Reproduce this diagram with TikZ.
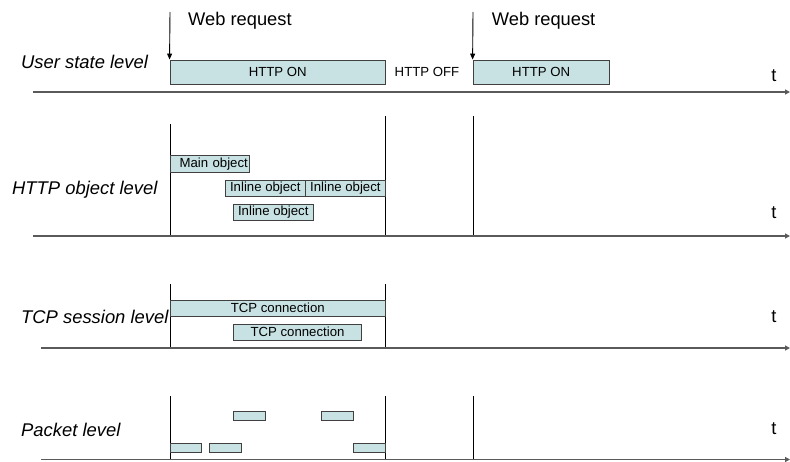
\documentclass[tikz,border=0pt]{standalone}
\usepackage{fontspec}
\setmainfont{Liberation Sans}
\usetikzlibrary{arrows.meta}
\definecolor{boxfill}{HTML}{C8E2E4}
\definecolor{boxline}{HTML}{404040}
\definecolor{axisline}{HTML}{5A5A5A}
\begin{document}
\begin{tikzpicture}[x=1pt,y=-1pt,
  bar/.style={draw=boxline,fill=boxfill,line width=0.9pt,rectangle,inner sep=0pt,
    font=\fontsize{13.2}{13.2}\selectfont},
  lvl/.style={anchor=west,inner sep=0pt,font=\fontsize{18.4}{18.4}\selectfont\itshape},
  big/.style={anchor=west,inner sep=0pt,font=\fontsize{18.3}{18.3}\selectfont},
  small/.style={inner sep=0pt,font=\fontsize{13.2}{13.2}\selectfont},
  tlab/.style={inner sep=0pt,font=\fontsize{18.3}{18.3}\selectfont},
  axis/.style={draw=axisline,line width=1.2pt,-{Triangle[length=5pt,width=5pt]}},
  vline/.style={draw=black,line width=0.9pt},
  req/.style={draw=black,line width=0.9pt,-{Triangle[length=6pt,width=5pt]}}]
\useasboundingbox (0,0) rectangle (790,461);

% ---------- User state level ----------
\node[lvl] (lu) at (21,62) {User state level};
\node[big] (wr1t) at (188,21) {Web request};
\node[big] (wr2t) at (491.7,21) {Web request};
\node[bar,minimum width=215.5pt,minimum height=24pt] (on1) at (277.75,72) {HTTP ON};
\node[small] (off) at (427,72) {HTTP OFF};
\node[bar,minimum width=136.3pt,minimum height=24pt] (on2) at (541.2,72) {HTTP ON};
\node[tlab] (t1) at (774,76) {t};
\coordinate (wr1) at (170,12);
\coordinate (wr2) at (473,12);
\draw[req] (wr1) -- (on1.north west);
\draw[req] (wr2) -- (on2.north west);
\coordinate (a1s) at (33,92);
\coordinate (a1e) at (790,92);
\draw[axis] (a1s) -- (a1e);

% ---------- HTTP object level ----------
\node[lvl] (lh) at (12,190) {HTTP object level};
\coordinate (h1t) at (170,124);
\coordinate (h1b) at (170,236);
\coordinate (h2t) at (385.5,116);
\coordinate (h2b) at (385.5,236);
\coordinate (h3t) at (473,116);
\coordinate (h3b) at (473,236);
\draw[vline] (h1t) -- (h1b);
\draw[vline] (h2t) -- (h2b);
\draw[vline] (h3t) -- (h3b);
\node[bar,minimum width=79.7pt,minimum height=16.3pt,text width=76pt,align=right] (main) at (209.85,163.85) {Main object};
\node[bar,minimum width=80pt,minimum height=16.7pt] (in1) at (265.3,188.35) {Inline object};
\node[bar,minimum width=80.2pt,minimum height=16.7pt] (in2) at (345.4,188.35) {Inline object};
\node[bar,minimum width=80pt,minimum height=16.4pt] (in3) at (273.3,212.5) {Inline object};
\node[tlab] (t2) at (774,213) {t};
\coordinate (a2s) at (33,236);
\coordinate (a2e) at (790,236);
\draw[axis] (a2s) -- (a2e);

% ---------- TCP session level ----------
\node[lvl] (lt) at (21,316.7) {TCP session level};
\coordinate (c1t) at (170,284);
\coordinate (c1b) at (170,348);
\coordinate (c2t) at (385.5,284);
\coordinate (c2b) at (385.5,348);
\draw[vline] (c1t) -- (c1b);
\draw[vline] (c2t) -- (c2b);
\node[bar,minimum width=215.5pt,minimum height=16pt] (tcp1) at (277.75,308) {TCP connection};
\node[bar,minimum width=128.4pt,minimum height=16.3pt] (tcp2) at (297.5,332.15) {TCP connection};
\node[tlab] (t3) at (774,316.7) {t};
\coordinate (a3s) at (41,348);
\coordinate (a3e) at (790,348);
\draw[axis] (a3s) -- (a3e);

% ---------- Packet level ----------
\node[lvl] (lp) at (21,430) {Packet level};
\coordinate (p1t) at (170,396);
\coordinate (p1b) at (170,459.5);
\coordinate (p2t) at (385.5,396);
\coordinate (p2b) at (385.5,459.5);
\coordinate (p3t) at (473,396);
\coordinate (p3b) at (473,459.5);
\draw[vline] (p1t) -- (p1b);
\draw[vline] (p2t) -- (p2b);
\draw[vline] (p3t) -- (p3b);
\node[bar,minimum width=32.4pt,minimum height=8.6pt] (pk1) at (249.5,416) {};
\node[bar,minimum width=32.4pt,minimum height=8.6pt] (pk2) at (337.5,416) {};
\node[bar,minimum width=31.7pt,minimum height=8.6pt] (pk3) at (185.85,448) {};
\node[bar,minimum width=32.4pt,minimum height=8.6pt] (pk4) at (225.5,448) {};
\node[bar,minimum width=32.2pt,minimum height=8.6pt] (pk5) at (369.4,448) {};
\node[tlab] (t4) at (774,428.3) {t};
\coordinate (a4s) at (41,459.5);
\coordinate (a4e) at (790,459.5);
\draw[axis] (a4s) -- (a4e);
\end{tikzpicture}
\end{document}
